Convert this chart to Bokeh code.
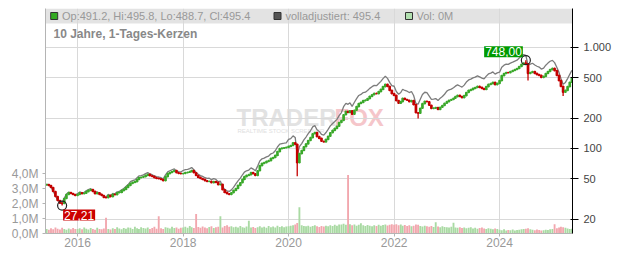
import math
import pandas as pd
from bokeh.plotting import figure
from bokeh.models import (Range1d, LinearAxis, LinearScale, FixedTicker,
                          CustomJSTickFormatter, Label, ColumnDataSource)
from bokeh.embed import file_html
from bokeh.resources import INLINE

# ---------------- data (half-monthly closes) ----------------
years = [2015, 2016, 2017, 2018, 2019, 2020, 2021, 2022, 2023, 2024, 2025]
first_open = 43.6
close_2015 = [44.0, 43.0, 41.1, 37.5, 33.5, 30.6, 28.8, 28.5, 32.0, 35.0, 36.6, 35.8, 35.0, 34.3]
close_2016 = [35.0, 36.4, 35.6, 36.1, 37.4, 38.5, 39.2, 37.6, 35.7, 36.5, 35.1, 34.2,
              32.8, 32.5, 34.4, 33.4, 35.2, 34.9, 36.5, 36.8, 38.3, 39.4, 41.2, 43.1]
close_2017 = [45.1, 46.2, 47.0, 49.4, 51.5, 51.9, 52.7, 54.2, 55.4, 53.8, 52.9, 51.4,
              50.6, 50.2, 49.4, 48.1, 52.6, 56.4, 57.9, 59.2, 60.4, 57.6, 56.7, 56.3]
close_2018 = [56.6, 57.7, 58.1, 59.0, 60.6, 57.5, 54.1, 51.8, 50.4, 49.5, 48.0, 47.2,
              47.4, 45.9, 47.0, 46.2, 43.8, 44.3, 39.1, 36.8, 35.6, 35.1, 36.4, 38.5]
close_2019 = [40.2, 43.1, 45.8, 49.5, 52.6, 54.2, 55.1, 57.9, 56.3, 54.1, 60.3, 67.7,
              71.2, 72.4, 74.5, 75.8, 79.8, 81.3, 85.5, 93.2, 99.6, 100.8, 101.6, 102.5]
close_2020 = [105, 107, 114, 110, 72.5, 89.0, 95.6, 104, 111, 120, 128, 140,
              144, 131, 126, 118, 116, 123, 132, 143, 151, 158, 166, 181]
close_2021 = [189, 216, 233, 228, 236, 218, 239, 260, 279, 286, 298, 301,
              312, 328, 341, 351, 349, 366, 385, 410, 432, 412, 376, 349]
close_2022 = [336, 298, 280, 291, 314, 305, 300, 291, 298, 272, 226, 223,
              250, 278, 293, 290, 268, 249, 251, 254, 243, 256, 266, 280]
close_2023 = [291, 300, 305, 314, 326, 336, 327, 319, 334, 358, 376, 383,
              394, 401, 412, 403, 392, 385, 410, 431, 439, 451, 429, 441]
close_2024 = [470, 527, 552, 566, 563, 579, 591, 606, 619, 649, 680, 702,
              690, 553, 566, 577, 554, 539, 529, 505, 517, 552, 579, 604]
close_2025 = [621, 590, 529, 470, 412, 360, 376, 410, 452, 495.4]

vol_2015 = [0.30, 0.25, 0.35, 0.28, 0.40, 0.32, 0.27, 0.38, 0.30, 0.25, 0.33, 0.28, 0.36, 0.30]
vol_2016 = [0.30, 0.35, 0.28, 0.40, 0.32, 0.27, 0.36, 0.30, 0.25, 0.38, 0.30, 0.28,
            0.34, 1.05, 0.30, 0.27, 0.35, 0.30, 0.42, 0.33, 0.28, 0.36, 0.31, 0.40]
vol_2017 = [0.38, 0.30, 0.45, 0.35, 0.30, 0.42, 0.36, 0.33, 0.40, 0.30, 0.37, 0.45,
            0.32, 1.15, 0.35, 0.30, 0.42, 0.38, 0.33, 0.45, 0.36, 0.40, 0.32, 0.38]
vol_2018 = [0.40, 0.45, 0.38, 0.50, 0.42, 0.36, 1.30, 0.44, 0.38, 0.46, 0.40, 0.35,
            0.43, 0.48, 0.37, 0.42, 0.45, 1.15, 0.40, 0.50, 0.55, 0.45, 0.48, 0.42]
vol_2019 = [0.45, 0.40, 0.50, 0.42, 0.38, 0.46, 0.85, 0.40, 0.44, 0.36, 0.42, 0.48,
            0.40, 0.45, 0.38, 0.50, 0.42, 0.46, 0.40, 0.52, 0.44, 0.48, 0.42, 0.46]
vol_2020 = [0.48, 0.52, 0.55, 0.60, 0.70, 1.75, 0.55, 0.50, 0.48, 0.52, 0.45, 0.50,
            0.55, 0.48, 0.44, 0.50, 0.46, 0.52, 0.48, 0.55, 0.50, 0.58, 0.52, 0.60]
vol_2021 = [0.60, 0.65, 0.58, 3.90, 0.62, 0.55, 0.60, 0.52, 0.58, 0.68, 0.55, 0.50,
            0.56, 0.52, 0.48, 0.55, 0.50, 0.58, 0.52, 0.56, 0.60, 0.54, 0.58, 0.62]
vol_2022 = [0.58, 0.62, 0.55, 0.60, 0.52, 0.56, 0.50, 0.55, 0.48, 0.52, 0.60, 0.58,
            0.50, 0.46, 0.52, 0.48, 0.45, 0.50, 0.44, 0.75, 0.46, 0.42, 0.48, 0.44]
vol_2023 = [0.42, 0.40, 0.45, 0.72, 0.40, 0.38, 0.42, 0.36, 0.40, 0.35, 0.38, 0.42,
            0.34, 0.38, 0.32, 0.36, 0.40, 0.33, 0.30, 0.35, 0.32, 0.28, 0.34, 0.30]
vol_2024 = [0.25, 0.22, 0.28, 0.20, 0.24, 0.22, 0.26, 0.20, 0.23, 0.25, 0.28, 0.30,
            0.32, 0.35, 0.28, 0.25, 0.22, 0.26, 0.24, 0.20, 0.22, 0.25, 0.23, 0.28]
vol_2025 = [0.30, 0.62, 0.35, 0.40, 0.45, 0.42, 0.38, 0.34, 0.30, 0.32]

# adjustment factor of the "volladjustiert" line per year
adj_factor = [1.01, 1.02, 1.04, 1.07, 1.11, 1.17, 1.20, 1.23, 1.27, 1.21, 1.20]

# notable intraday extremes (wicks)
wick_dates = ["2015-09-16", "2020-03-01", "2022-06-16", "2024-07-01", "2024-07-16", "2025-03-16"]
wick_values = [27.21, 53.0, 198.0, 748.0, 471.0, 330.0]

last_open, last_high, last_low, last_close = 491.2, 495.8, 488.7, 495.4
last_adjusted = 495.4
last_vol = "0M"

tick_years = [2016, 2018, 2020, 2022, 2024]
price_ticks = [20, 50, 100, 200, 500, 1000]
vol_ticks = [0, 1e6, 2e6, 3e6, 4e6]

# ---------------- assemble ----------------
closes_by_year = [close_2015, close_2016, close_2017, close_2018, close_2019, close_2020,
                  close_2021, close_2022, close_2023, close_2024, close_2025]
vols_by_year = [vol_2015, vol_2016, vol_2017, vol_2018, vol_2019, vol_2020,
                vol_2021, vol_2022, vol_2023, vol_2024, vol_2025]
month_span = {2015: (6, 12), 2025: (1, 5)}


def half_months(year, m0, m1):
    return [pd.Timestamp(year=year, month=m, day=d) for m in range(m0, m1 + 1) for d in (1, 16)]


dates, closes, vols, adj = [], [], [], []
for y, c, v, f in zip(years, closes_by_year, vols_by_year, adj_factor):
    m0, m1 = month_span.get(y, (1, 12))
    d = half_months(y, m0, m1)
    assert len(d) == len(c) == len(v), (y, len(d), len(c), len(v))
    dates += d
    closes += c
    vols += [x * 1e6 for x in v]
    adj += [x * f for x in c]

opens = [first_open] + closes[:-1]
GREEN, RED = "#3aa82a", "#c40000"
VGREEN, VRED = "#a9daa3", "#f2a7ae"
up = [c >= o for o, c in zip(opens, closes)]
src = ColumnDataSource(dict(
    date=dates, top=[max(o, c) for o, c in zip(opens, closes)],
    bottom=[min(o, c) for o, c in zip(opens, closes)],
    color=[GREEN if u else RED for u in up],
    vol=vols, vcolor=[VGREEN if u else VRED for u in up], adj=adj))

# ---------------- figure ----------------
X0, X1 = pd.Timestamp("2015-05-24"), pd.Timestamp("2025-05-20")
Y_LO, Y_HI = 14.4, 2432.0
FL, FR, FT, FB = 45, 572, 8, 233


def px_x(px):
    return X0 + (px - FL) / (FR - FL) * (X1 - X0)


def px_y(py):
    lo, hi = math.log10(Y_LO), math.log10(Y_HI)
    return 10 ** (hi - (py - FT) / (FB - FT) * (hi - lo))


p = figure(width=632, height=253, x_axis_type="datetime", y_axis_type="log",
           x_range=Range1d(X0, X1), y_range=Range1d(Y_LO, Y_HI),
           y_axis_location="right", output_backend="svg", toolbar_location=None,
           min_border_left=FL, min_border_right=632 - FR, min_border_top=FT,
           min_border_bottom=253 - FB)
p.extra_y_ranges = {"vol": Range1d(0, 15e6)}
p.extra_y_scales = {"vol": LinearScale()}
p.outline_line_color = None
p.background_fill_color = "white"
p.border_fill_color = "white"

FONT = "Liberation Sans"
TICK_COLOR = "#999999"

# header band
p.quad(left=[X0], right=[X1], bottom=[px_y(23)], top=[Y_HI], fill_color="#e3e3e3",
       line_color=None, level="image")

year_ms = [pd.Timestamp(year=y, month=1, day=1).value // 10**6 for y in tick_years]
xt = FixedTicker(ticks=year_ms)
p.xaxis.ticker = xt
p.xgrid.ticker = xt
p.xaxis.formatter = CustomJSTickFormatter(code="return String(new Date(tick).getUTCFullYear());")
yt = FixedTicker(ticks=price_ticks)
p.yaxis.ticker = yt
p.ygrid.ticker = yt
p.yaxis.formatter = CustomJSTickFormatter(
    code="return tick >= 1000 ? (tick/1000).toFixed(0) + '.000' : tick.toFixed(0);")
p.grid.grid_line_color = "#d9d9d9"

vax = LinearAxis(y_range_name="vol", ticker=FixedTicker(ticks=vol_ticks),
                 formatter=CustomJSTickFormatter(
                     code="return (tick/1e6).toFixed(1).replace('.', ',') + 'M';"))
p.add_layout(vax, "left")

for ax in [p.xaxis[0], p.yaxis[0], vax]:
    ax.major_label_text_font = FONT
    ax.major_label_text_font_size = "12px"
    ax.major_label_text_color = TICK_COLOR
    ax.axis_line_color = "#b4b4b4"
    ax.major_tick_line_color = "#b4b4b4"
    ax.minor_tick_line_color = None
    ax.major_label_standoff = 2
p.yaxis[0].major_tick_in = 4
p.yaxis[0].major_tick_out = 0
p.yaxis[0].major_label_standoff = 4
vax.major_tick_in = 0
vax.major_tick_out = 3
p.xaxis[0].major_tick_in = 0
p.xaxis[0].major_tick_out = 3
p.xaxis[0].major_label_standoff = 1

# watermark
for txt, xx, col in [("TRADER", 236, "#e2e2e2"), ("FOX", 334, "#f5c6ca")]:
    p.add_layout(Label(x=px_x(xx), y=px_y(117), text=txt, text_font=FONT,
                       text_font_size="24px", text_font_style="bold",
                       text_color=col, text_baseline="middle", level="image"))
p.add_layout(Label(x=px_x(237), y=px_y(130), text="REALTIME STOCK SCREENER",
                   text_font=FONT, text_font_size="6px", text_color="#e0e0e0",
                   text_baseline="middle", level="image"))

# volume
period = pd.Timedelta(days=365.25 / 24)
p.vbar(x="date", width=period * 0.85, top="vol", bottom=0, y_range_name="vol",
       fill_color="vcolor", line_color=None, source=src)

# adjusted line
p.line(x="date", y="adj", line_color="#7c7c7c", line_width=1.3, source=src)

# candles
p.vbar(x="date", width=period * 0.5, top="top", bottom="bottom", fill_color="color",
       line_color="color", line_width=1.6, source=src)

# wicks
wd = [pd.Timestamp(d) for d in wick_dates]
base = [closes[dates.index(d)] for d in wd]
wcol = [GREEN if up[dates.index(d)] else RED for d in wd]
p.segment(x0=wd, y0=base, x1=wd, y1=wick_values, line_color=wcol, line_width=1.3)

# extremes
cands = list(zip(dates, closes)) + list(zip(wd, wick_values))
hi_d, hi_v = max(cands, key=lambda t: t[1])
lo_d, lo_v = min(cands, key=lambda t: t[1])
p.scatter(x=[hi_d, lo_d], y=[hi_v, lo_v], marker="circle", size=9, fill_color=None,
          line_color="#222222", line_width=1.2)
p.add_layout(Label(x=hi_d, y=hi_v, text=f"{hi_v:.2f}".replace(".", ","),
                   text_font=FONT, text_font_size="12px", text_color="white",
                   text_align="right", text_baseline="bottom", x_offset=-3, y_offset=3,
                   background_fill_color="#009a00", padding=1))
p.add_layout(Label(x=lo_d, y=lo_v, text=f"{lo_v:.2f}".replace(".", ","),
                   text_font=FONT, text_font_size="12px", text_color="white",
                   text_align="left", text_baseline="top", x_offset=1, y_offset=-4,
                   background_fill_color="#cc0000", padding=1))

# header legend
sq_x = [px_x(53.7), px_x(277), px_x(408.5)]
p.scatter(x=sq_x, y=[px_y(15.5)] * 3, marker="square", size=7,
          fill_color=["#33aa22", "#555555", "#b2e0b0"], line_color="#333333", line_width=1)
legend_texts = [(61.5, f"Op:{last_open}, Hi:{last_high}, Lo:{last_low}, Cl:{last_close}"),
                (285, f"volladjustiert: {last_adjusted}"),
                (416, f"Vol: {last_vol}")]
for xx, txt in legend_texts:
    p.add_layout(Label(x=px_x(xx), y=px_y(15.5), text=txt, text_font=FONT,
                       text_font_size="11px", text_color="#999999", text_baseline="middle"))
p.add_layout(Label(x=px_x(53), y=px_y(33), text="10 Jahre, 1-Tages-Kerzen", text_font=FONT,
                   text_font_size="12px", text_font_style="bold", text_color="#888888",
                   text_baseline="middle"))

open("out.html", "w").write(file_html(p, INLINE))
